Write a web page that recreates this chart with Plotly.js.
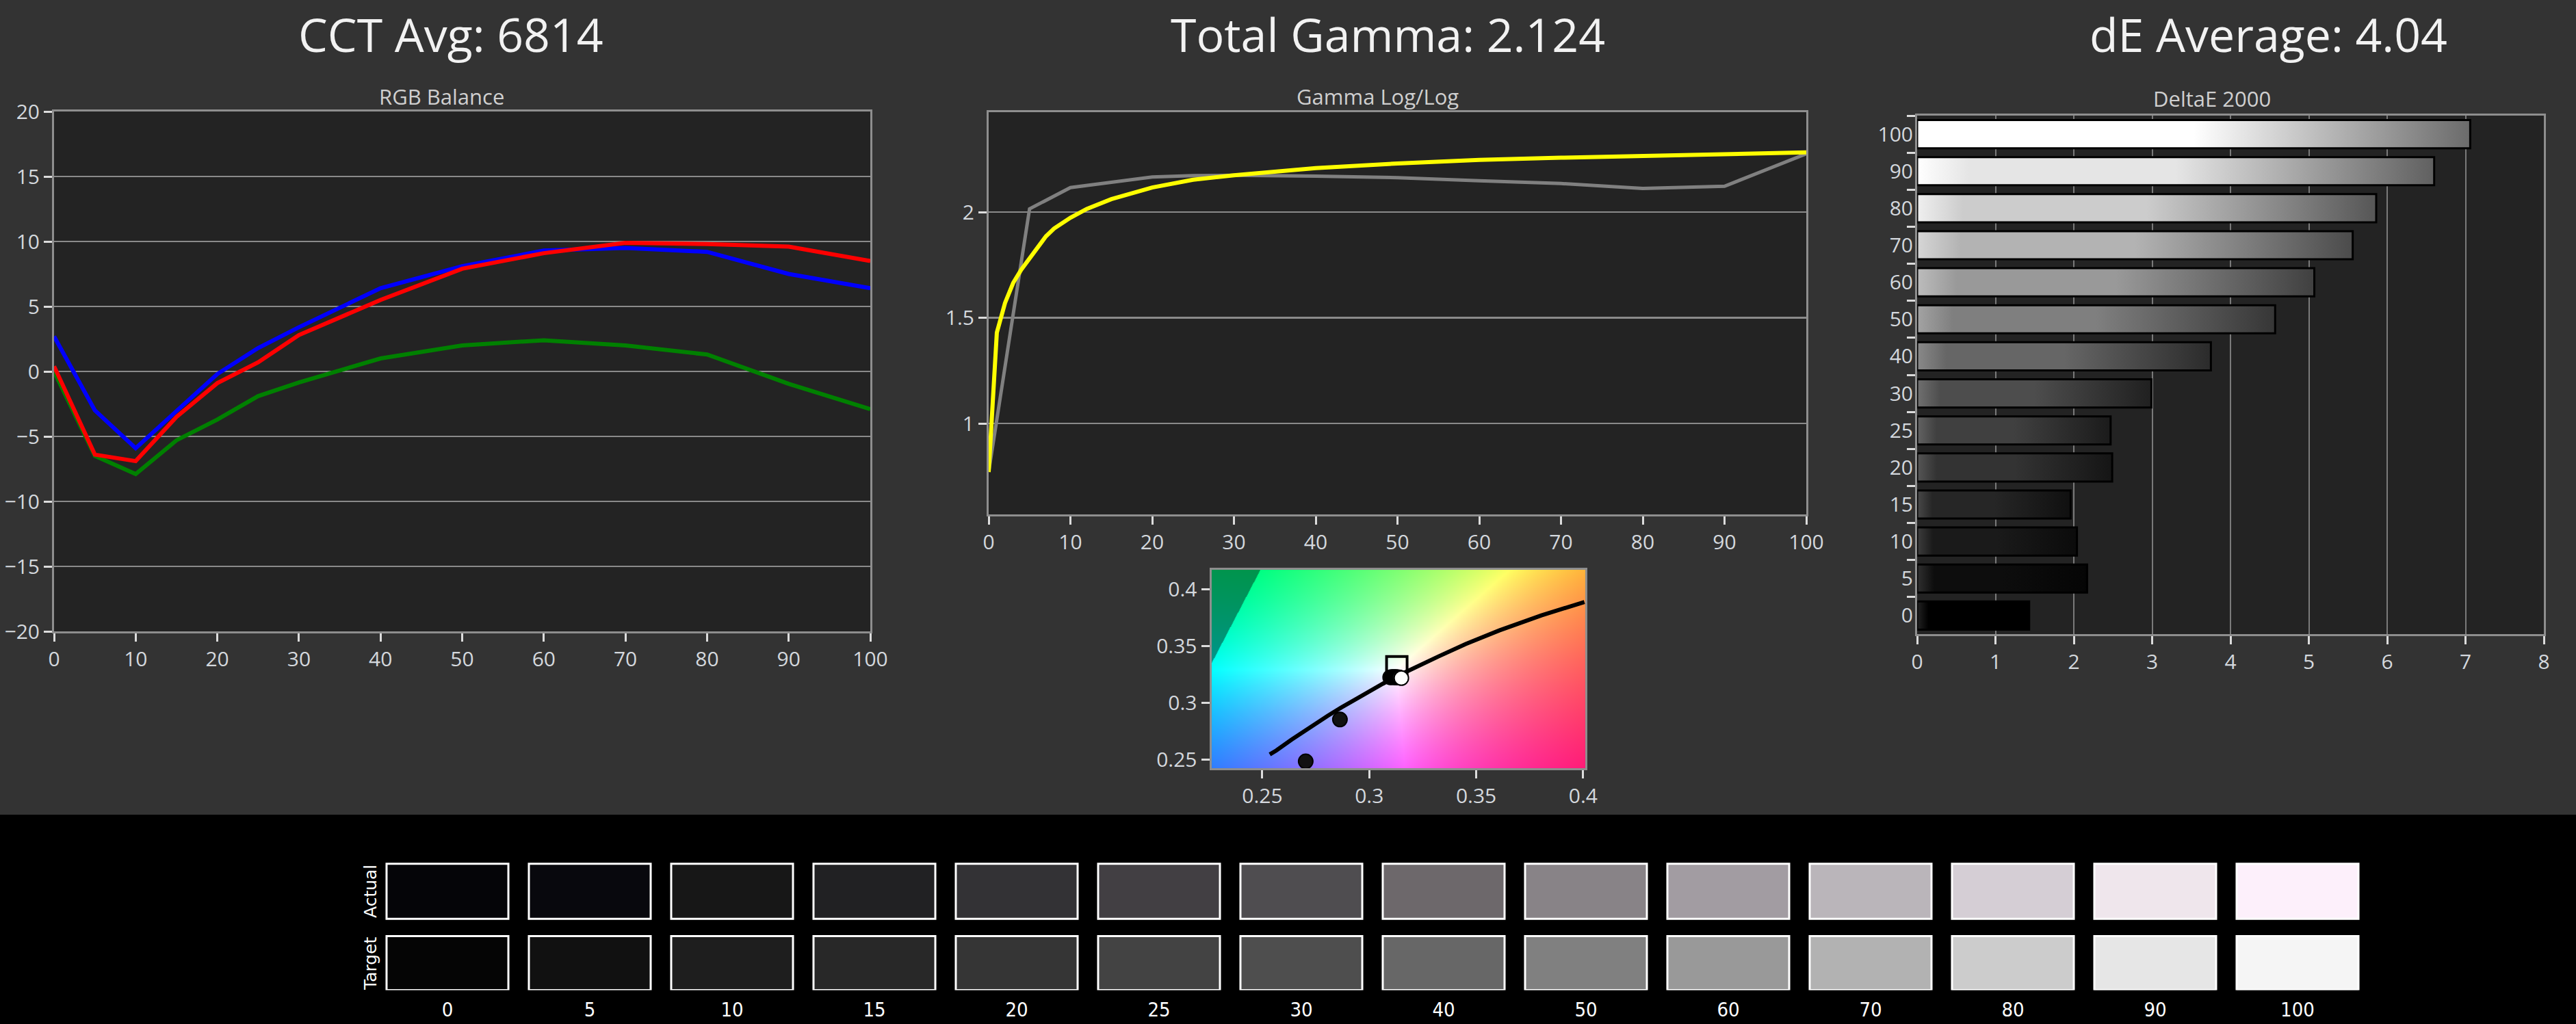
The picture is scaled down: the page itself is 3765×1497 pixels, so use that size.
<!DOCTYPE html>
<html>
<head>
<meta charset="utf-8">
<script src="https://cdn.plot.ly/plotly-3.0.1.min.js"></script>
<style>
html,body{margin:0;padding:0;background:#333333;overflow:hidden;}
#chart{width:3765px;height:1497px;}
</style>
</head>
<body>
<div id="chart"></div>
<script>
// ---------------- DATA ----------------
const rgbLevels = [0,5,10,15,20,25,30,40,50,60,70,80,90,100];
const redBalance   = [0.4,-6.4,-6.9,-3.5,-0.9,0.7,2.8,5.5,7.9,9.1,9.9,9.8,9.6,8.5];
const greenBalance = [0,-6.5,-7.9,-5.3,-3.7,-1.9,-0.85,1.0,2.0,2.4,2.0,1.3,-0.95,-2.9];
const blueBalance  = [2.7,-3.0,-5.9,-3.0,-0.2,1.8,3.4,6.4,8.1,9.3,9.5,9.2,7.5,6.4];

const gammaLevels   = [0,5,10,15,20,25,30,40,50,60,70,80,90,100];
const gammaMeasured = [0.77,2.015,2.116,2.142,2.166,2.172,2.174,2.17,2.163,2.148,2.135,2.112,2.122,2.276];
const gammaTargetLevels = [0,1,2,3,4,5,6,7,8,9,10,12,15,20,25,30,40,50,60,70,80,90,100];
const gammaTarget = [0.77,1.43,1.57,1.665,1.728,1.78,1.838,1.885,1.922,1.95,1.973,2.015,2.061,2.116,2.153,2.174,2.208,2.23,2.247,2.257,2.266,2.273,2.282];

const locusX = [0.2535,0.2565,0.2637,0.2719,0.2807,0.2869,0.2952,0.3003,0.3064,0.3135,0.3221,0.3324,0.3451,0.3608,0.3805,0.4006];
const locusY = [0.2543,0.2577,0.2673,0.2779,0.2884,0.2956,0.3048,0.3103,0.3166,0.3237,0.3318,0.3406,0.3516,0.3635,0.3768,0.3885];
const targetWhiteX = [0.3129];
const targetWhiteY = [0.3315];
const measuredX = [0.2703,0.2863,0.3098,0.3104,0.3110,0.3115,0.3120,0.3124,0.3128,0.3132,0.3136,0.3140];
const measuredY = [0.2482,0.2851,0.3222,0.3224,0.3223,0.3225,0.3222,0.3224,0.3223,0.3222,0.3221,0.3221];
const lastX = [0.3150];
const lastY = [0.3215];

const deLevels = ['0','5','10','15','20','25','30','40','50','60','70','80','90','100'];
const deValues = [1.43,2.17,2.04,1.96,2.49,2.47,2.99,3.75,4.57,5.07,5.56,5.86,6.60,7.06];

const swatchLabels = ['0','5','10','15','20','25','30','40','50','60','70','80','90','100'];
const actualColors = ['#050508','#08080d','#171717','#212123','#333235','#423f43','#4f4d50','#6d686b','#888387','#a29ca2','#bab5ba','#d5ced5','#efe6ec','#fdf0fb'];
const targetColors = ['#050505','#111111','#1e1e1e','#282828','#353535','#434343','#4e4e4e','#676767','#808080','#999999','#b2b2b2','#cccccc','#e6e6e6','#f5f5f5'];

const titles = ['CCT Avg: 6814','Total Gamma: 2.124','dE Average: 4.04'];
const subTitles = ['RGB Balance','Gamma Log/Log','DeltaE 2000'];

// ---------------- LAYOUT HELPERS ----------------
const W = 3765, H = 1497;
const fx = p => p / W;
const fy = p => 1 - p / H;

const tickFont = {family:'Open Sans, sans-serif', size:30, color:'#d4d8dd'};
function ax(extra){
  return Object.assign({
    showline:true, linecolor:'#8e8e8e', linewidth:3, mirror:true,
    ticks:'outside', ticklen:12, tickwidth:3, tickcolor:'#dcdcdc',
    tickfont:tickFont, showgrid:false, zeroline:false, fixedrange:true
  }, extra);
}

const cieXR = [0.2262, 0.4010];
const cieYR = [0.2422, 0.4169];

function chromaImage(w, h){
  const c = document.createElement('canvas'); c.width = w; c.height = h;
  const ctx = c.getContext('2d'); const im = ctx.createImageData(w, h);
  for (let j = 0; j < h; j++){
    const cy = cieYR[1] - (j + 0.5) / h * (cieYR[1] - cieYR[0]);
    for (let i = 0; i < w; i++){
      const cx = cieXR[0] + (i + 0.5) / w * (cieXR[1] - cieXR[0]);
      const X = cx / cy, Z = (1 - cx - cy) / cy;
      let r = 3.2406*X - 1.5372 - 0.4986*Z;
      let g = -0.9689*X + 1.8758 + 0.0415*Z;
      let b = 0.0557*X - 0.2040 + 1.0570*Z;
      const out = r < 0 || g < 0 || b < 0;
      r = Math.max(r,0); g = Math.max(g,0); b = Math.max(b,0);
      let k = 255 / Math.max(r,g,b); if (out) k *= 0.58;
      const o = (j*w + i)*4;
      im.data[o] = r*k; im.data[o+1] = g*k; im.data[o+2] = b*k; im.data[o+3] = 255;
    }
  }
  ctx.putImageData(im, 0, 0);
  return c.toDataURL('image/png');
}

// ---------------- TRACES ----------------
const traces = [
  {type:'scatter', mode:'lines', x:rgbLevels, y:greenBalance, xaxis:'x', yaxis:'y', line:{color:'#008000', width:6}, hoverinfo:'skip'},
  {type:'scatter', mode:'lines', x:rgbLevels, y:blueBalance,  xaxis:'x', yaxis:'y', line:{color:'#0000ff', width:6}, hoverinfo:'skip'},
  {type:'scatter', mode:'lines', x:rgbLevels, y:redBalance,   xaxis:'x', yaxis:'y', line:{color:'#ff0000', width:6}, hoverinfo:'skip'},

  {type:'scatter', mode:'lines', x:gammaLevels, y:gammaMeasured, xaxis:'x2', yaxis:'y2', line:{color:'#808080', width:5}, hoverinfo:'skip'},
  {type:'scatter', mode:'lines', x:gammaTargetLevels, y:gammaTarget, xaxis:'x2', yaxis:'y2', line:{color:'#ffff00', width:6}, hoverinfo:'skip'},

  {type:'scatter', mode:'lines', x:locusX, y:locusY, xaxis:'x3', yaxis:'y3', line:{color:'#000000', width:6}, hoverinfo:'skip'},
  {type:'scatter', mode:'markers', x:targetWhiteX, y:targetWhiteY, xaxis:'x3', yaxis:'y3',
   marker:{symbol:'square-open', size:30, color:'#000000', line:{color:'#000000', width:4}}, hoverinfo:'skip'},
  {type:'scatter', mode:'markers', x:measuredX, y:measuredY, xaxis:'x3', yaxis:'y3',
   marker:{symbol:'circle', size:21, color:'#111111', line:{color:'#000000', width:2}}, hoverinfo:'skip'},
  {type:'scatter', mode:'markers', x:lastX, y:lastY, xaxis:'x3', yaxis:'y3',
   marker:{symbol:'circle', size:21, color:'#ffffff', line:{color:'#000000', width:2}}, hoverinfo:'skip'},

  {type:'bar', orientation:'h', x:deValues, y:deLevels, xaxis:'x4', yaxis:'y4', width:0.76,
   marker:{color:deLevels.map(l => { const v = Math.round(2.55*Number(l)); return 'rgb('+v+','+v+','+v+')'; }),
           line:{color:'#000000', width:3}}, hoverinfo:'skip'},

  {type:'bar', x:swatchLabels, y:swatchLabels.map(() => 1.02), base:1.32, xaxis:'x5', yaxis:'y5', width:0.856,
   marker:{color:actualColors, line:{color:'#ffffff', width:3}}, hoverinfo:'skip'},
  {type:'bar', x:swatchLabels, y:swatchLabels.map(() => 1), base:0, xaxis:'x5', yaxis:'y5', width:0.856,
   marker:{color:targetColors, line:{color:'#ffffff', width:3}}, hoverinfo:'skip'}
];

// ---------------- LAYOUT ----------------
const titleFont = {family:'Open Sans, sans-serif', size:68, color:'#f2f2f2'};
const subFont = {family:'Open Sans, sans-serif', size:31, color:'#cfcfcf'};
const sideFont = {family:'DejaVu Sans, sans-serif', size:25, color:'#ffffff'};

const layout = {
  width:W, height:H, showlegend:false, barmode:'overlay',
  paper_bgcolor:'#333333', plot_bgcolor:'rgba(0,0,0,0)',
  margin:{l:0, r:0, t:0, b:0, pad:0},
  xaxis: ax({domain:[fx(79), fx(1272)], range:[0,100], dtick:10, anchor:'y'}),
  yaxis: ax({domain:[fy(923), fy(163)], range:[-20,20], dtick:5, anchor:'x', showgrid:true, gridcolor:'#8a8a8a', gridwidth:2.5}),
  xaxis2: ax({domain:[fx(1445), fx(2640)], range:[0,100], dtick:10, anchor:'y2'}),
  yaxis2: ax({domain:[fy(752), fy(164)], range:[0.5696,2.4725], tickvals:[1,1.5,2], anchor:'x2', showgrid:true, gridcolor:'#8a8a8a', gridwidth:2.5}),
  xaxis3: ax({domain:[fx(1770.5), fx(2317)], range:cieXR, tickvals:[0.25,0.3,0.35,0.4], anchor:'y3'}),
  yaxis3: ax({domain:[fy(1123), fy(833)], range:cieYR, tickvals:[0.25,0.3,0.35,0.4], anchor:'x3'}),
  xaxis4: ax({domain:[fx(2802), fx(3718)], range:[0,8], dtick:1, anchor:'y4', showgrid:true, gridcolor:'#7a7a7a', gridwidth:2}),
  yaxis4: ax({domain:[fy(927), fy(169)], type:'category', categoryorder:'array', categoryarray:deLevels, range:[-0.5,13.5],
              tickson:'boundaries', anchor:'x4', ticklabelstandoff:-3}),
  xaxis5: {domain:[fx(550), fx(3462)], type:'category', range:[-0.5,13.5], anchor:'y5', showline:false, showgrid:false, zeroline:false,
           ticks:'', ticklabelstandoff:8, tickfont:{family:'DejaVu Sans Condensed, DejaVu Sans, sans-serif', size:29, color:'#ffffff'}, fixedrange:true},
  yaxis5: {domain:[fy(1447.5), fy(1257.9)], range:[0,2.4], anchor:'x5', visible:false, fixedrange:true},
  shapes: [
    {type:'rect', xref:'paper', yref:'paper', x0:0, x1:1, y0:0, y1:fy(1191), fillcolor:'#000000', line:{width:0}, layer:'below'},
    {type:'rect', xref:'x domain', yref:'y domain', x0:0, x1:1, y0:0, y1:1, fillcolor:'#232323', line:{width:0}, layer:'below'},
    {type:'rect', xref:'x2 domain', yref:'y2 domain', x0:0, x1:1, y0:0, y1:1, fillcolor:'#232323', line:{width:0}, layer:'below'},
    {type:'rect', xref:'x4 domain', yref:'y4 domain', x0:0, x1:1, y0:0, y1:1, fillcolor:'#232323', line:{width:0}, layer:'below'}
  ],
  images: [{source:chromaImage(546,290), xref:'x3', yref:'y3', x:cieXR[0], y:cieYR[1],
            sizex:cieXR[1]-cieXR[0], sizey:cieYR[1]-cieYR[0], sizing:'stretch', xanchor:'left', yanchor:'top', layer:'below'}],
  annotations: [
    {text:titles[0], x:fx(659), y:fy(50), xref:'paper', yref:'paper', showarrow:false, font:titleFont, xanchor:'center', yanchor:'middle'},
    {text:titles[1], x:fx(2028), y:fy(50), xref:'paper', yref:'paper', showarrow:false, font:titleFont, xanchor:'center', yanchor:'middle'},
    {text:titles[2], x:fx(3315), y:fy(50), xref:'paper', yref:'paper', showarrow:false, font:titleFont, xanchor:'center', yanchor:'middle'},
    {text:subTitles[0], x:fx(645), y:fy(141), xref:'paper', yref:'paper', showarrow:false, font:subFont, xanchor:'center', yanchor:'middle'},
    {text:subTitles[1], x:fx(2013), y:fy(141), xref:'paper', yref:'paper', showarrow:false, font:subFont, xanchor:'center', yanchor:'middle'},
    {text:subTitles[2], x:fx(3233), y:fy(144), xref:'paper', yref:'paper', showarrow:false, font:subFont, xanchor:'center', yanchor:'middle'},
    {text:'Actual', x:fx(541), y:fy(1303), xref:'paper', yref:'paper', showarrow:false, textangle:-90,
     font:sideFont, xanchor:'center', yanchor:'middle'},
    {text:'Target', x:fx(541), y:fy(1409), xref:'paper', yref:'paper', showarrow:false, textangle:-90,
     font:sideFont, xanchor:'center', yanchor:'middle'}
  ]
};

Plotly.newPlot('chart', traces, layout, {staticPlot:true, displayModeBar:false}).then(gd => {
  // gradient fill for DeltaE bars (glass-like shading)
  const svgNS = 'http://www.w3.org/2000/svg';
  const svg = gd.querySelector('svg.main-svg');
  let defs = svg.querySelector('defs');
  if (!defs) { defs = document.createElementNS(svgNS, 'defs'); svg.insertBefore(defs, svg.firstChild); }
  const paths = gd.querySelectorAll('.x4y4 .barlayer .point path');
  paths.forEach((p, i) => {
    const v = 2.55 * Number(deLevels[i]);
    const c = x => { const q = Math.max(0, Math.min(255, Math.round(x))); return 'rgb('+q+','+q+','+q+')'; };
    const stops = [[0, c(v + 35)], [0.1, c(v)], [0.5, c(v)], [1, c(v * 0.42)]];
    const lg = document.createElementNS(svgNS, 'linearGradient');
    lg.setAttribute('id', 'deg' + i);
    lg.setAttribute('x1', '0'); lg.setAttribute('x2', '1'); lg.setAttribute('y1', '0'); lg.setAttribute('y2', '0');
    stops.forEach(s => {
      const st = document.createElementNS(svgNS, 'stop');
      st.setAttribute('offset', s[0]); st.setAttribute('stop-color', s[1]);
      lg.appendChild(st);
    });
    defs.appendChild(lg);
    p.style.setProperty('fill', 'url(#deg' + i + ')');
  });
});
</script>
</body>
</html>
